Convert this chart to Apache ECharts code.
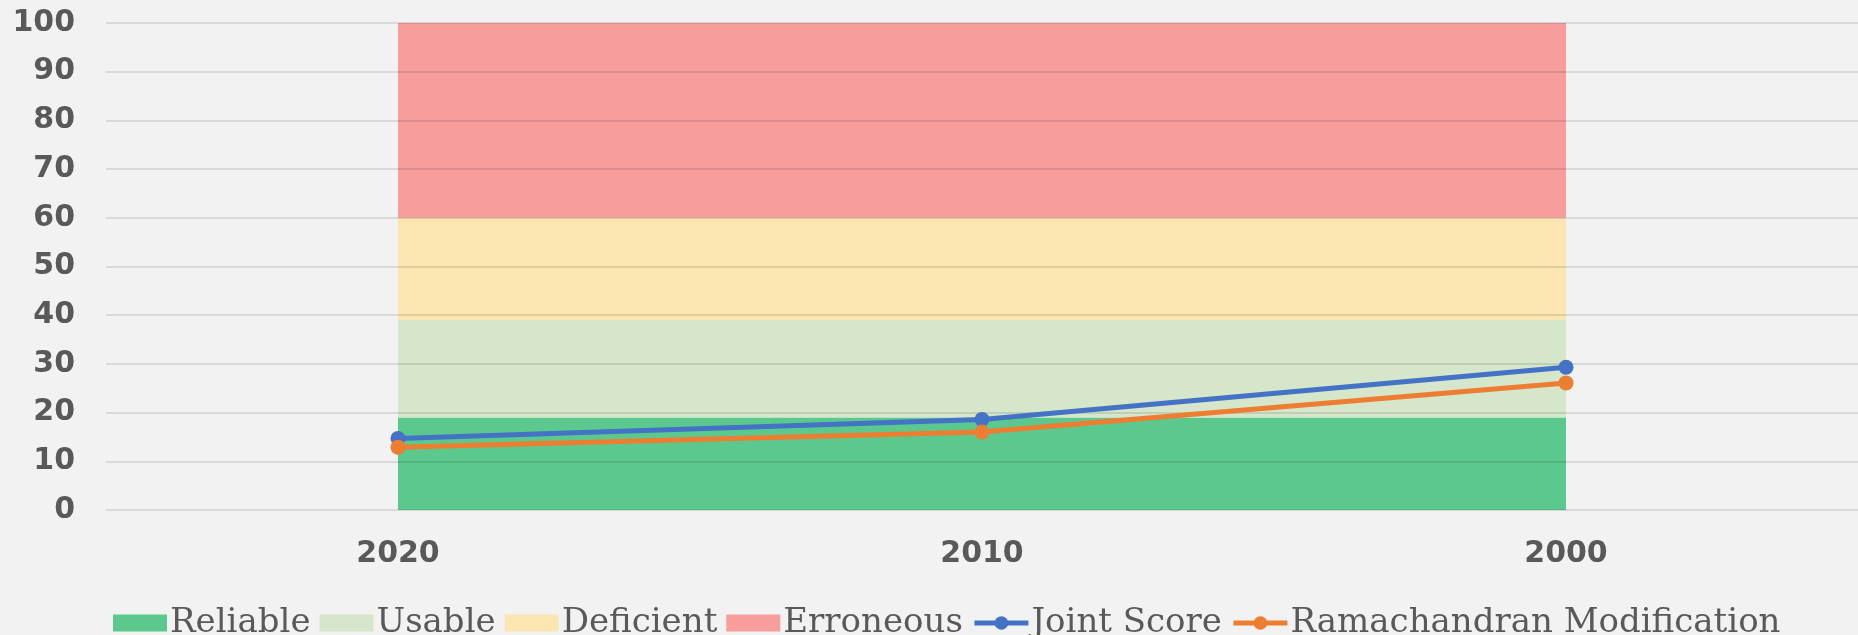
<!DOCTYPE html>
<html>
<head>
<meta charset="utf-8">
<script src="https://cdn.jsdelivr.net/npm/echarts@6/dist/echarts.min.js"></script>
<style>html,body{margin:0;padding:0;background:#f2f2f2;}#c{width:1858px;height:635px;}</style>
</head>
<body>
<div id="c"></div>
<script>
const categories = ['2020', '2010', '2000'];
const reliable = [19, 19, 19];       // band 0-19
const usable = [20, 20, 20];         // band 19-39
const deficient = [21, 21, 21];      // band 39-60
const erroneous = [40, 40, 40];      // band 60-100
const jointScore = [14.7, 18.6, 29.3];
const ramachandran = [12.9, 16.0, 26.1];
const yTicks = [0, 10, 20, 30, 40, 50, 60, 70, 80, 90, 100];

const chart = echarts.init(document.getElementById('c'), null, {renderer: 'canvas'});
const labelColor = '#595959';
function band(name, data, color) {
  return {
    name, type: 'line', stack: 'bands', data,
    symbol: 'none', showSymbol: false,
    lineStyle: {width: 0, opacity: 0},
    areaStyle: {color, opacity: 1},
    itemStyle: {color},
    z: 2, silent: true
  };
}
function scoreLine(name, data, color) {
  return {
    name, type: 'line', data,
    symbol: 'circle', symbolSize: 15, showSymbol: true,
    lineStyle: {width: 5, color},
    itemStyle: {color},
    z: 6
  };
}
chart.setOption({
  backgroundColor: '#f2f2f2',
  animation: false,
  grid: {left: 106, right: 0, top: 23, bottom: 125},
  legend: {
    left: 108, top: 601,
    itemWidth: 54, itemHeight: 17, itemGap: 9,
    textStyle: {fontFamily: "'DejaVu Serif', 'Liberation Serif', serif", fontSize: 34, color: labelColor, padding: [0, 0, 0, -2]},
    data: [
      {name: 'Reliable', icon: 'rect'},
      {name: 'Usable', icon: 'rect'},
      {name: 'Deficient', icon: 'rect'},
      {name: 'Erroneous', icon: 'rect'},
      {name: 'Joint Score', lineStyle: {width: 5}},
      {name: 'Ramachandran Modification', lineStyle: {width: 5}}
    ]
  },
  xAxis: {
    type: 'category', data: categories, boundaryGap: true,
    axisLine: {show: false}, axisTick: {show: false},
    axisLabel: {fontFamily: "'DejaVu Sans', sans-serif", fontWeight: 'bold', fontSize: 30, color: labelColor, margin: 29}
  },
  yAxis: {
    type: 'value', min: yTicks[0], max: yTicks[yTicks.length - 1], interval: 10,
    z: 4,
    axisLine: {show: false}, axisTick: {show: false},
    axisLabel: {fontFamily: "'DejaVu Sans', sans-serif", fontWeight: 'bold', fontSize: 30, color: labelColor, margin: 31},
    splitLine: {lineStyle: {color: 'rgba(0,0,0,0.1)', width: 2}}
  },
  series: [
    band('Reliable', reliable, '#5BC98D'),
    band('Usable', usable, '#D5E6CB'),
    band('Deficient', deficient, '#FBE6B1'),
    band('Erroneous', erroneous, '#F79E9D'),
    scoreLine('Joint Score', jointScore, '#4472C4'),
    scoreLine('Ramachandran Modification', ramachandran, '#ED7D31')
  ]
});
</script>
</body>
</html>
